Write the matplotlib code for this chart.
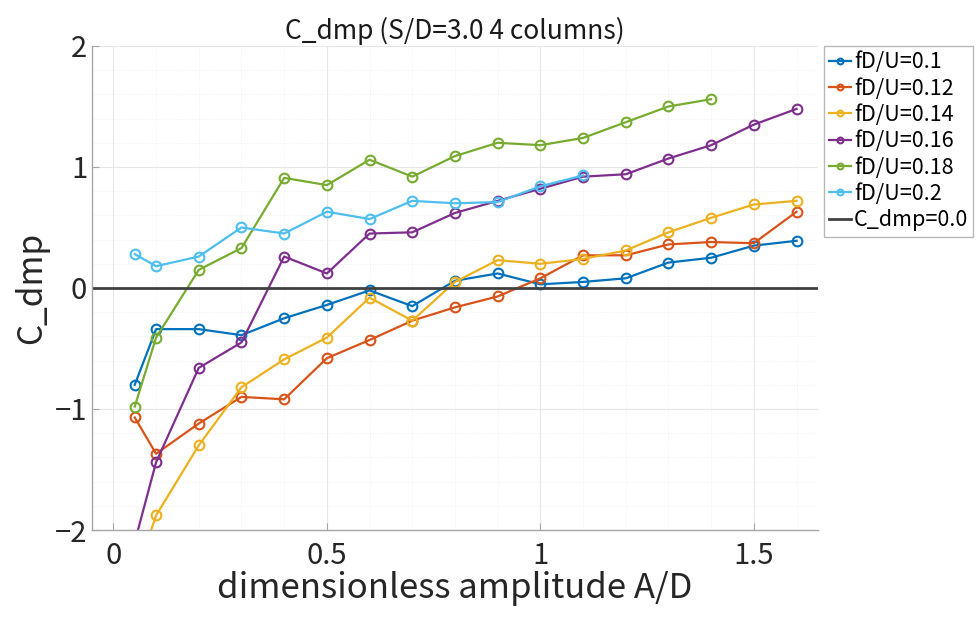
import numpy as np
import matplotlib.pyplot as plt
from matplotlib.ticker import MultipleLocator, FuncFormatter

plt.rcParams['font.family'] = ['Noto Sans CJK JP', 'DejaVu Sans']

# amplitudes A/D
amp = [0.05, 0.1, 0.2, 0.3, 0.4, 0.5, 0.6, 0.7, 0.8, 0.9, 1.0, 1.1, 1.2, 1.3, 1.4, 1.5, 1.6]

# damping coefficient for each reduced frequency
c_01 = [-0.80, -0.34, -0.34, -0.39, -0.25, -0.14, -0.02, -0.15, 0.06, 0.12, 0.03, 0.05, 0.08, 0.21, 0.25, 0.35, 0.39]
c_012 = [-1.07, -1.37, -1.12, -0.90, -0.92, -0.58, -0.43, -0.27, -0.16, -0.07, 0.08, 0.27, 0.27, 0.36, 0.38, 0.37, 0.63]
c_014 = [-2.40, -1.88, -1.30, -0.82, -0.59, -0.41, -0.08, -0.27, 0.05, 0.23, 0.20, 0.24, 0.31, 0.46, 0.58, 0.69, 0.72]
c_016 = [-2.10, -1.44, -0.66, -0.45, 0.26, 0.12, 0.45, 0.46, 0.62, 0.72, 0.82, 0.92, 0.94, 1.07, 1.18, 1.35, 1.48]
c_018 = [-0.98, -0.41, 0.15, 0.33, 0.91, 0.85, 1.06, 0.92, 1.09, 1.20, 1.18, 1.24, 1.37, 1.50, 1.56]
c_02 = [0.28, 0.18, 0.26, 0.50, 0.45, 0.63, 0.57, 0.72, 0.70, 0.71, 0.84, 0.93]

series = [c_01, c_012, c_014, c_016, c_018, c_02]
labels = ['fD/U=0.1', 'fD/U=0.12', 'fD/U=0.14', 'fD/U=0.16', 'fD/U=0.18', 'fD/U=0.2']
colors = ['#0072BD', '#D95319', '#EDB120', '#7E2F8E', '#77AC30', '#4DBEEE']
c_ref = 0.0

fig = plt.figure(figsize=(9.76, 6.17), dpi=100)
ax = fig.add_axes([0.0943, 0.141, 0.7437, 0.7845])

for ys, lab, col in zip(series, labels, colors):
    ax.plot(amp[:len(ys)], ys, '-o', color=col, lw=1.6, ms=7,
            mfc='none', mew=1.5, label=lab)
ax.axhline(c_ref, color='#404040', lw=2, label='C_dmp=0.0')

ax.set_xlim(-0.05, 1.65)
ax.set_ylim(-2, 2)
ax.xaxis.set_major_locator(MultipleLocator(0.5))
ax.xaxis.set_minor_locator(MultipleLocator(0.1))
ax.yaxis.set_major_locator(MultipleLocator(1))
ax.yaxis.set_minor_locator(MultipleLocator(0.2))
ax.xaxis.set_major_formatter(FuncFormatter(lambda v, p: f'{v:g}'))
ax.yaxis.set_major_formatter(FuncFormatter(lambda v, p: f'{v:g}'.replace('-', '\u2212')))

ax.grid(which='major', color='#e6e6e6', lw=0.8)
ax.grid(which='minor', color='#eeeeee', lw=0.6, ls=':')
ax.set_axisbelow(True)
for s in ['top', 'right']:
    ax.spines[s].set_visible(False)
for s in ['left', 'bottom']:
    ax.spines[s].set_color('#a6a6a6')
    ax.spines[s].set_linewidth(1)
ax.tick_params(which='both', direction='in', color='#a6a6a6', labelcolor='#262626',
               labelsize=21)
ax.tick_params(which='major', length=5)
ax.tick_params(which='minor', length=0)
ax.tick_params(axis='x', pad=8)

ax.set_title('C_dmp (S/D=3.0 4 columns)', fontsize=19, color='#1a1a1a', pad=5)
ax.set_xlabel('dimensionless amplitude A/D', fontsize=25, color='#262626', labelpad=0)
ax.set_ylabel('C_dmp', fontsize=24, color='#262626', labelpad=4)

leg = ax.legend(loc='upper left', bbox_to_anchor=(1.008, 1.0), fontsize=15.5,
                frameon=True, fancybox=False, borderaxespad=0, handlelength=1.0,
                handletextpad=0.15, labelspacing=0.2, borderpad=0.25, markerscale=0.6)
leg.get_frame().set_edgecolor('#a6a6a6')
leg.get_frame().set_linewidth(1)

fig.savefig('out.png', dpi=100)
